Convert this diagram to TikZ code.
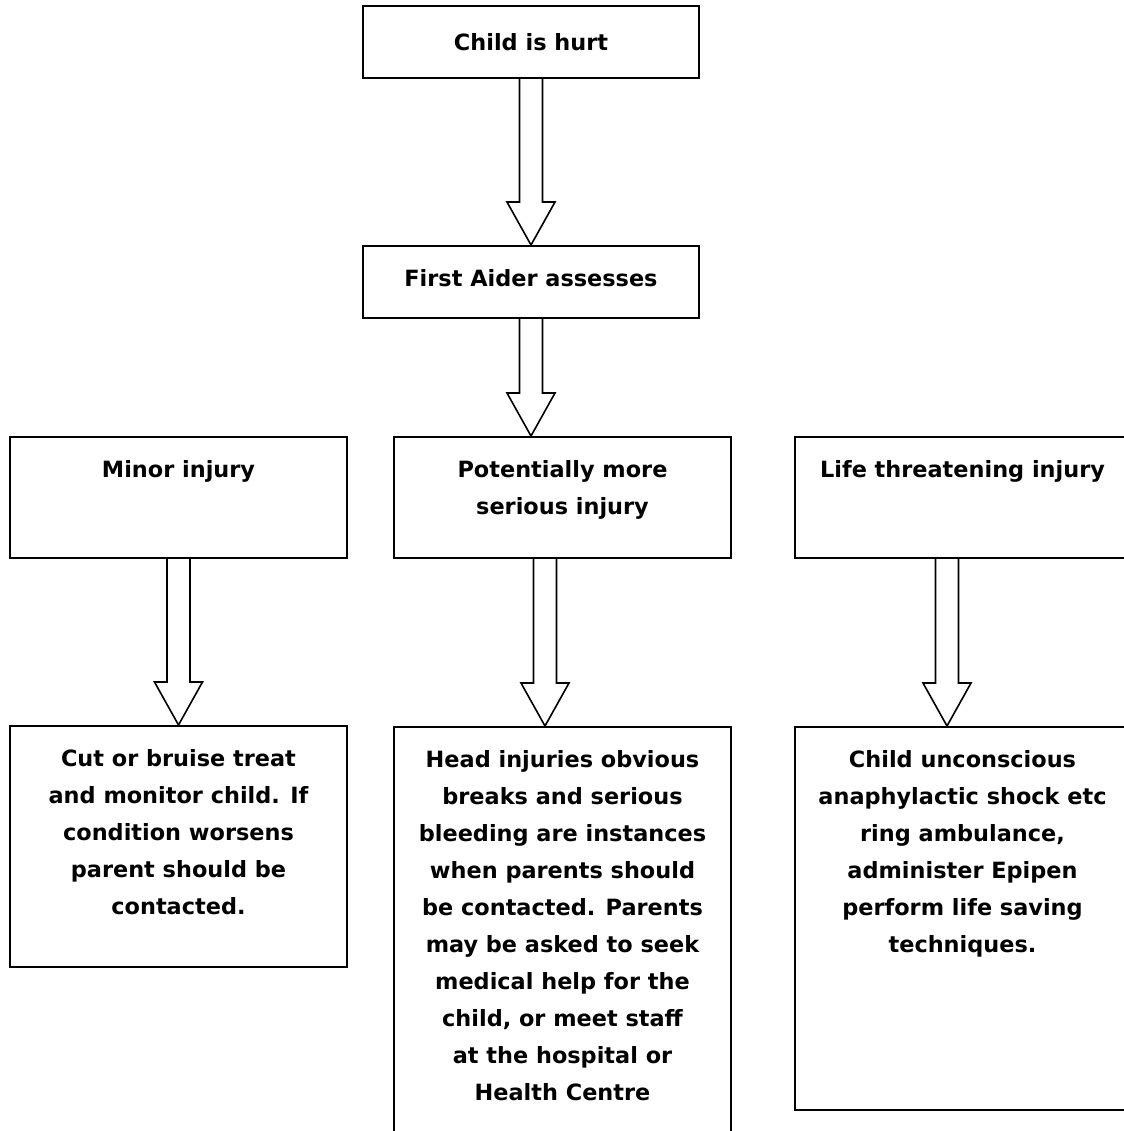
\documentclass[tikz,border=0pt]{standalone}
\usepackage{fontspec}
\setmainfont{DejaVu Sans}
\usetikzlibrary{positioning,calc}

\begin{document}
\begin{tikzpicture}[x=0.5pt,y=-0.5pt,
	box/.style={draw=black, line width=1pt, rectangle, inner sep=0pt, fill=white},
	txt/.style={inner sep=0pt, align=center, font=\fontsize{11.2pt}{18.5pt}\selectfont\bfseries},
	blockarrow/.style={draw=black, line width=0.8pt, line join=miter,
		to path={($(\tikztostart)+(-11.5,0)$) -- ($(\tikztotarget)+(-11.5,-43)$) -- ++(-12.5,0)
			-- (\tikztotarget) -- ++(24,-43) -- ++(-12.5,0) -- ($(\tikztostart)+(11.5,0)$)}}]
	\useasboundingbox (0,0) rectangle (1124,1131);
	\fill[white] (0,0) rectangle (1124,1131);
	\clip (0,0) rectangle (1124,1131);

	% Top
		\node[box, minimum width=168pt, minimum height=36pt] (hurt) at (531,42) {};
		\node[txt] (hurtt) at (hurt.center) {Child is hurt};

		\node[box, minimum width=168pt, minimum height=36pt] (assess) at (531,282) {};
		\node[txt, yshift=2pt] (assesst) at (assess.center) {First Aider assesses};

	% Injury types
		\node[box, minimum width=168.5pt, minimum height=60.5pt] (minor) at (178.5,497.5) {};
		\node[txt, below=12pt of minor.north] (minort) {Minor injury};

		\node[box, minimum width=168.5pt, minimum height=60.5pt] (serious) at (562.5,497.5) {};
		\node[txt, below=12pt of serious.north] (seriout) {Potentially more\\serious injury};

		\node[box, minimum width=167.5pt, minimum height=60.5pt] (life) at (962.5,497.5) {};
		\node[txt, below=12pt of life.north] (lifet) {Life threatening injury};

	% What to do
		\node[box, minimum width=168.5pt, minimum height=120.5pt] (cut) at (178.5,846.5) {};
		\node[txt, below=12pt of cut.north] (cutt) {Cut or bruise treat\\and monitor child. If\\condition worsens\\parent should be\\contacted.};

		\node[box, minimum width=168.5pt, minimum height=211.5pt] (head) at (562.5,938.5) {};
		\node[txt, below=12pt of head.north] (headt) {Head injuries obvious\\breaks and serious\\bleeding are instances\\when parents should\\be contacted. Parents\\may be asked to seek\\medical help for the\\child, or meet staff\\at the hospital or\\Health Centre};

		\node[box, minimum width=167.5pt, minimum height=191.5pt] (uncon) at (962.5,918.5) {};
		\node[txt, below=12pt of uncon.north] (uncont) {Child unconscious\\anaphylactic shock etc\\ring ambulance,\\administer Epipen\\perform life saving\\techniques.};

	% Arrows
		\coordinate (a2) at (assess.south |- serious.north);
		\coordinate (s4) at ([xshift=-8.75pt]serious.south);
		\coordinate (t4) at ([xshift=-8.75pt]head.north);
		\coordinate (s5) at ([xshift=-7.75pt]life.south);
		\coordinate (t5) at ([xshift=-7.75pt]uncon.north);

		\draw[blockarrow] (hurt.south) to (assess.north);
		\draw[blockarrow] (assess.south) to (a2);
		\draw[blockarrow] (minor.south) to (cut.north);
		\draw[blockarrow] (s4) to (t4);
		\draw[blockarrow] (s5) to (t5);
\end{tikzpicture}
\end{document}
